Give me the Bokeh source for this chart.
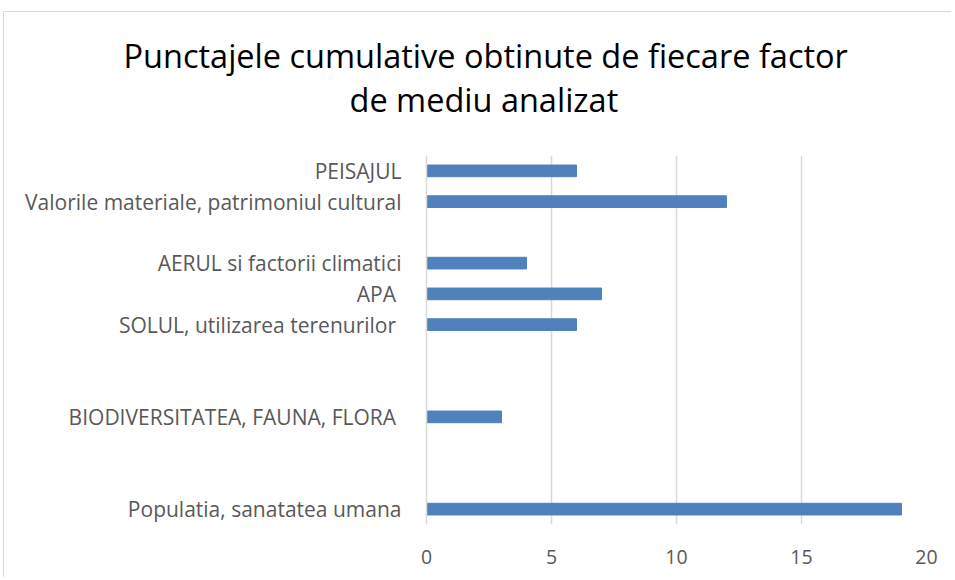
from bokeh.plotting import figure
from bokeh.models import FactorRange, Range1d, Title, FixedTicker, ColumnDataSource
from bokeh.embed import file_html
from bokeh.resources import INLINE

# Categories top-to-bottom (blank slots are empty categories of the original chart)
categories = [
    "PEISAJUL",
    "Valorile materiale, patrimoniul cultural",
    " ",
    "AERUL si factorii climatici",
    "APA ",
    "SOLUL, utilizarea terenurilor ",
    "  ",
    "   ",
    "BIODIVERSITATEA, FAUNA, FLORA ",
    "    ",
    "     ",
    "Populatia, sanatatea umana",
]
values = [6, 12, 0, 4, 7, 6, 0, 0, 3, 0, 0, 19]
x_ticks = [0, 5, 10, 15, 20]
title_lines = ["Punctajele cumulative obtinute de fiecare factor", "de mediu analizat"]

FONT = "Open Sans"
LABEL_COLOR = "#595959"
GRID_COLOR = "#d9d9d9"
BAR_COLOR = "#4f81bd"

bar_cats = [c for c, v in zip(categories, values) if v > 0]
bar_vals = [v for v in values if v > 0]
src = ColumnDataSource(dict(cat=bar_cats, val=bar_vals))

p = figure(
    width=948, height=566,
    y_range=FactorRange(factors=list(reversed(categories)), range_padding=0),
    x_range=Range1d(0, 20),
    output_backend="svg", toolbar_location=None,
    min_border_left=422, min_border_right=26, min_border_top=143, min_border_bottom=54,
)
p.styles = {"margin-left": "3px", "margin-top": "11px",
            "border-left": "1px solid #d9d9d9", "border-top": "1px solid #d9d9d9"}
p.outline_line_color = None

p.hbar(y="cat", right="val", left=0, height=0.38, source=src, color=BAR_COLOR)

# x axis
p.xaxis.ticker = FixedTicker(ticks=x_ticks)
p.xaxis.axis_line_color = None
p.xaxis.major_tick_line_color = None
p.xaxis.minor_tick_line_color = None
p.xaxis.major_label_text_font = FONT
p.xaxis.major_label_text_font_size = "19.5px"
p.xaxis.major_label_text_color = LABEL_COLOR
p.xaxis.major_label_standoff = 19

# y axis
p.yaxis.axis_line_color = GRID_COLOR
p.yaxis.axis_line_width = 1.5
p.yaxis.major_tick_line_color = None
p.yaxis.minor_tick_line_color = None
p.yaxis.major_label_text_font = FONT
p.yaxis.major_label_text_font_size = "21px"
p.yaxis.major_label_text_color = LABEL_COLOR
p.yaxis.major_label_standoff = 19

p.xgrid.grid_line_color = GRID_COLOR
p.xgrid.grid_line_width = 1.5
p.ygrid.grid_line_color = None

# spacer between frame and title block
p.add_layout(Title(text=" ", text_font_size="10px", standoff=23), "above")
# title: two lines, closest-to-frame first
for line, off, stand in [(title_lines[1], -77, -4), (title_lines[0], -303, -3)]:
    p.add_layout(Title(
        text=line, align="left", offset=off, standoff=stand,
        text_font=FONT, text_font_size="32.5px", text_font_style="normal",
        text_color="#000000",
    ), "above")

open("out.html", "w").write(file_html(p, INLINE))
